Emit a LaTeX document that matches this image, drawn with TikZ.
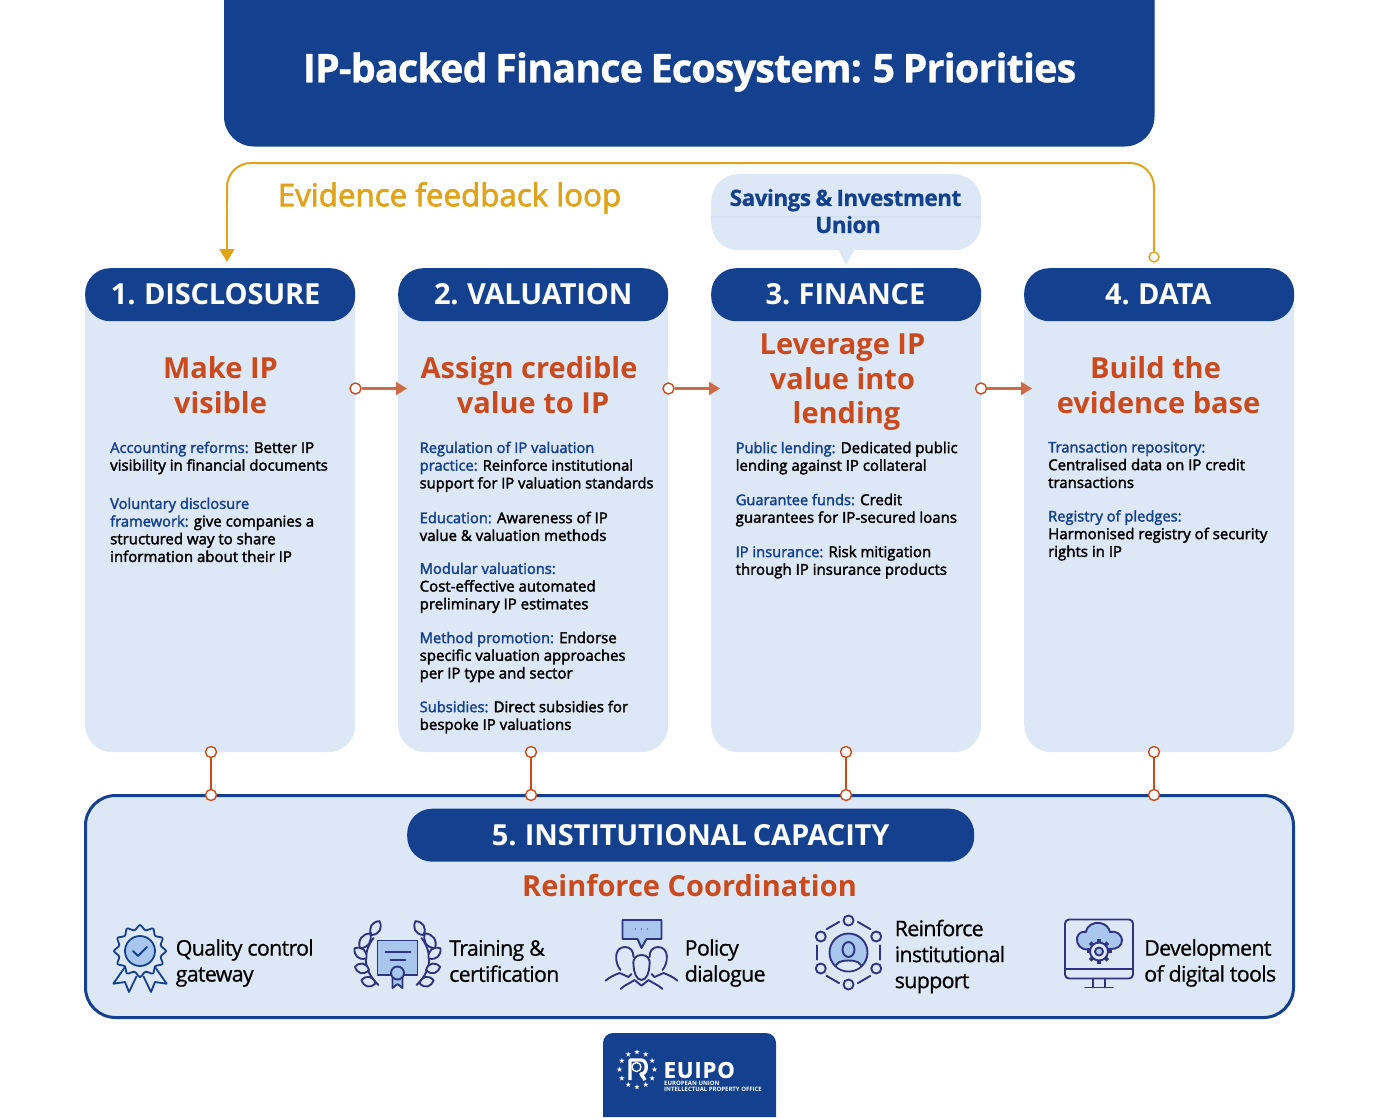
\documentclass[tikz,border=0pt]{standalone}
\usepackage{fontspec}
\setmainfont{Open Sans}
\newfontfamily\osb{Open Sans}[FakeBold=2.2]
\newfontfamily\osbw{Open Sans}[LetterSpace=-0.5,WordSpace=0.8]
\newfontfamily\ostight{Open Sans}[LetterSpace=-3.4,FakeBold=0.6]
\newfontfamily\osbt{Open Sans}[LetterSpace=-2.2,WordSpace=0.8,FakeBold=0.8]
\newfontfamily\osbwide{Open Sans}[LetterSpace=4,FakeBold=1]
\usetikzlibrary{arrows.meta,shapes.geometric,calc}
\definecolor{navy}{HTML}{14418F}
\definecolor{pale}{HTML}{DDE8F7}
\definecolor{rust}{HTML}{CA4A1E}
\definecolor{rustl}{HTML}{CE6A45}
\definecolor{gold}{HTML}{E0A31A}
\definecolor{ink}{HTML}{2E3480}
\definecolor{iconfill}{HTML}{A9C6EF}
\definecolor{seam}{HTML}{D3E0F1}
\newcommand{\fs}[2]{\fontsize{#1}{#2}\selectfont}
\newcommand{\lab}[1]{{\fs{14.7}{17.7}\textcolor{navy}{#1}}}
\newcommand{\hd}[2]{\raisebox{1.5pt}{#2}\hspace*{#1pt}}
\tikzset{
  x=1pt,y=-1pt,
  card/.style={fill=pale,rounded corners=27pt,minimum width=270pt,minimum height=484pt,inner sep=0,anchor=north west},
  headbox/.style={fill=navy,text=white,rounded corners=25pt,minimum width=270pt,minimum height=53pt,inner sep=0,anchor=north west,font=\bfseries\osbw\fs{29}{30}},
  goal/.style={text=rust,font=\bfseries\fs{29}{34.6},align=center,inner sep=0},
  body/.style={font=\osb\fs{15}{17.7},align=left,inner sep=0,anchor=north west,text=black},
  caplab/.style={font=\ostight\fs{21.5}{26},align=left,inner sep=0,anchor=west,text=black},
  dotr/.style={circle,draw=rust,fill=white,line width=1.4pt,minimum size=11pt,inner sep=0},
  dotg/.style={circle,draw=gold,fill=white,line width=1.4pt,minimum size=10pt,inner sep=0},
  linkv/.style={draw=rust,line width=2pt},
  linkh/.style={draw=rustl,line width=2.2pt,-{Triangle[length=11pt,width=13pt]}},
  ico/.style={draw=ink,line width=1.9pt,line join=round,line cap=round},
  leaf/.style={ico,fill=pale},
}
\newcommand{\leafat}[4]{\draw[leaf,shift={(#1,#2)},rotate=#3] (0,0) .. controls (#4*0.3,7) and (#4*0.75,6) .. (#4,0) .. controls (#4*0.75,-6) and (#4*0.3,-7) .. (0,0) -- cycle;}
\begin{document}
\begin{tikzpicture}
\useasboundingbox (0,0) rectangle (1379,1117);
% title
\fill[navy] (224,0) [rounded corners=30pt] -- (224,146.5) -- (1154.5,146.5) [sharp corners] -- (1154.5,0) -- cycle;
\node[text=white,font=\bfseries\osbt\fs{39.5}{40},inner sep=0] (title) at (689.5,72) {IP-backed Finance Ecosystem: 5 Priorities};
% feedback
\node[text=gold,font=\osb\fs{31.3}{32},inner sep=0] (fbl) at (449.5,198) {Evidence feedback loop};
\node[dotg] (fbs) at (1154,257) {};
\coordinate (fbtop) at (227,163);
\coordinate (fbe) at (227,262);
\draw[gold,line width=2pt,rounded corners=24pt] (fbs.north) |- (fbtop) -- ($(fbtop)+(0,40)$);
\draw[gold,line width=2pt,-{Triangle[length=13pt,width=15pt]}] ($(fbtop)+(0,39)$) -- (fbe);
% bubble
\fill[pale] (838,249) -- (846,265) -- (855,249) -- cycle;
\node[fill=pale,rounded corners=27pt,minimum width=270pt,minimum height=76pt,inner sep=0,anchor=north west] (sib) at (711,174) {};
\draw[seam,line width=1.2pt] (sib.west |- 0,217) -- (sib.east |- 0,217);
\node[text=navy,font=\bfseries\osbt\fs{22.5}{27},align=center,inner sep=0] (sibt) at (845.5,211) {Savings \& Investment\\\hspace*{5pt}Union};
% cards
\node[card] (card1) at (85,268) {};
\node[card] (card2) at (398,268) {};
\node[card] (card3) at (711,268) {};
\node[card] (card4) at (1024,268) {};
\node[headbox] (head1) at (85,268) {\hd{9}{1. DISCLOSURE}};
\node[headbox] (head2) at (398,268) {\hd{0}{2. VALUATION}};
\node[headbox] (head3) at (711,268) {\hd{1.5}{3. FINANCE}};
\node[headbox] (head4) at (1024,268) {\hd{2}{4. DATA}};
% goals
\node[goal] (goal1) at (220.5,385) {Make IP\\visible};
\node[goal] (goal2) at (529,385) {Assign credible\\\hspace*{8pt}value to IP};
\node[goal] (goal3) at (842.5,382.5) {Leverage IP\\value into\\\hspace*{8pt}lending};
\node[goal] (goal4) at (1158.5,385) {Build the\hspace*{6pt}\\evidence base};
% bodies
\node[body] (b1a) at (110,441.5) {\lab{Accounting reforms:} Better IP\\visibility in financial documents};
\node[body] (b1b) at (110,497.5) {\lab{Voluntary disclosure}\\\lab{framework:} give companies a\\structured way to share\\information about their IP};
\node[body,font=\osb\fs{14.7}{17.7}] (b2a) at (419.5,441.5) {\lab{Regulation of IP valuation}\\\lab{practice:} Reinforce institutional\\support for IP valuation standards};
\node[body] (b2b) at (419.5,511.5) {\lab{Education:} Awareness of IP\\value \& valuation methods};
\node[body] (b2c) at (419.5,562.5) {\lab{Modular valuations:}\\Cost-effective automated\\preliminary IP estimates};
\node[body] (b2d) at (419.5,631.5) {\lab{Method promotion:} Endorse\\specific valuation approaches\\per IP type and sector};
\node[body] (b2e) at (419.5,700.5) {\lab{Subsidies:} Direct subsidies for\\bespoke IP valuations};
\node[body] (b3a) at (735.5,441.5) {\lab{Public lending:} Dedicated public\\lending against IP collateral};
\node[body] (b3b) at (735.5,493.5) {\lab{Guarantee funds:} Credit\\guarantees for IP-secured loans};
\node[body] (b3c) at (735.5,545.5) {\lab{IP insurance:} Risk mitigation\\through IP insurance products};
\node[body] (b4a) at (1048,441.5) {\lab{Transaction repository:}\\Centralised data on IP credit\\transactions};
\node[body] (b4b) at (1048,510) {\lab{Registry of pledges:}\\Harmonised registry of security\\rights in IP};
% horizontal arrows
\node[dotr] (ha1) at (355.5,388.5) {};
\node[dotr] (ha2) at (668.5,388.5) {};
\node[dotr] (ha3) at (981,388.5) {};
\coordinate (hb1) at (407,388.5);
\coordinate (hb2) at (720,388.5);
\coordinate (hb3) at (1032,388.5);
\draw[linkh] (ha1) -- (hb1);
\draw[linkh] (ha2) -- (hb2);
\draw[linkh] (ha3) -- (hb3);
% institutional box
\node[fill=pale,draw=navy,line width=3pt,rounded corners=30pt,minimum width=1208pt,minimum height=222pt,inner sep=0] (inst) at (689.5,906.5) {};
\node[headbox,minimum width=567pt,minimum height=53pt] (head5) at (407,808.5) {5. INSTITUTIONAL CAPACITY};
\node[goal] (goal5) at (689.5,886) {Reinforce Coordination};
% vertical links
\foreach \i/\xx in {1/211,2/531,3/846,4/1154}{
  \node[dotr] (va\i) at (\xx,752) {};
  \node[dotr] (vb\i) at (\xx,795) {};
  \draw[linkv] (va\i) -- (vb\i);
}
% captions
\node[caplab] (c1) at (175.5,963) {Quality control\\gateway};
\node[caplab] (c2) at (449,961) {Training \&\\certification};
\node[caplab] (c3) at (684.5,963) {Policy\\dialogue};
\node[caplab] (c4) at (894.5,956.5) {Reinforce\\institutional\\support};
\node[caplab] (c5) at (1144,963) {Development\\of digital tools};
% icon 1: rosette
\begin{scope}[shift={(140,951)}]
  \draw[navy,line width=1.8pt,line join=round,fill=pale] (-15,16) -- (-26.7,32.7) -- (-15,31) -- (-11,41) -- (-3.3,25);
  \draw[navy,line width=1.8pt,line join=round,fill=pale] (15,16) -- (26.7,32.7) -- (15,31) -- (11,41) -- (3.3,25);
  \draw[navy,line width=1.8pt,line join=round,fill=pale] plot[smooth cycle,domain=0:345,samples=24] (\x:{mod(round(\x/15),2)==0 ? 26 : 21.5});
  \draw[navy,line width=1.8pt,fill=iconfill] (0,0) circle (15);
  \draw[navy,line width=1.8pt,line cap=round,line join=round] (-7,0) -- (-2,5) -- (7,-4);
\end{scope}
% icon 2: certificate with wreath
\begin{scope}[shift={(397.5,955)}]
  \draw[ico,fill=iconfill] (-20,-14.5) rectangle (20,20);
  \draw[ico] (-12,-3) -- (13,-3); \draw[ico] (-7,5) -- (8,5);
  \draw[ico,fill=iconfill] (-5,22) -- (-5,33) -- (0,29) -- (5,33) -- (5,22);
  \draw[ico,fill=iconfill] (0,18) circle (6.5);
  \foreach \s in {-1,1}{
    \begin{scope}[xscale=\s]
      \draw[ico] (-24,-17) .. controls (-34,-4) and (-36,14) .. (-19,30);
      \leafat{-26}{-20}{60}{16}
      \leafat{-37.5}{-6.7}{56}{18}
      \leafat{-31}{3.3}{140}{15.6}
      \leafat{-28.5}{15}{167}{14.4}
      \leafat{-22}{28.3}{167}{14.4}
    \end{scope}
  }
\end{scope}
% icon 3: people and speech
\begin{scope}[shift={(641.5,955)}]
  \draw[ico,fill=iconfill] (-19,-35) -- (20,-35) -- (20,-16) -- (5,-16) -- (0,-7) -- (-4,-16) -- (-19,-16) -- cycle;
  \foreach \dx in {-6,0,6}{\fill[ink!70] (\dx,-26) circle (0.9);}
  \foreach \s in {-1,1}{
    \begin{scope}[xscale=\s]
      \draw[ico] (-21,15) .. controls (-27,8) and (-28,-8) .. (-16.5,-8) .. controls (-11,-8) and (-8,-4) .. (-8,2);
      \draw[ico] (-36,25.7) .. controls (-32,22) and (-27,20) .. (-22,18) -- (-13,22) -- (-10,19);
    \end{scope}
  }
  \draw[ico,fill=pale] (-8,10) .. controls (-9,3) and (-5,0) .. (0,0) .. controls (5,0) and (9,3) .. (8,10) .. controls (8,17) and (5,25) .. (0,25) .. controls (-5,25) and (-8,17) .. (-8,10) -- cycle;
  \draw[ico] (-21,34) .. controls (-17,30) and (-11,28) .. (-7,25) -- (0,30.7) -- (7,25) .. controls (11,28) and (17,30) .. (21,34);
\end{scope}
% icon 4: hub
\begin{scope}[shift={(848.5,952.5)}]
  \draw[ico,fill=iconfill] (0,0) circle (19);
  \begin{scope}
    \clip (0,0) circle (18);
    \draw[ico,fill=pale] (-14,19) .. controls (-14,9) and (-7,8) .. (0,8) .. controls (7,8) and (14,9) .. (14,19) -- cycle;
  \end{scope}
  \draw[ico] (0,-3) ellipse (6 and 7.5);
  \foreach \a in {30,90,150,210,270,330}{
    \draw[ico] (\a:32) circle (5);
    \draw[ico] (\a+17:32) -- (\a+43:32);
  }
\end{scope}
% icon 5: monitor
\begin{scope}[shift={(1099,940)}]
  \draw[ico,rounded corners=4pt] (-34,-20.5) rectangle (34,38.5);
  \draw[ico] (-34,29) -- (34,29);
  \draw[ico] (-6,38.5) -- (-6,47.5); \draw[ico] (6,38.5) -- (6,47.5);
  \draw[ico] (-14,47.5) -- (14,47.5);
  \draw[ico,fill=iconfill] (-10,9) .. controls (-18,11) and (-23,4) .. (-22,-2) .. controls (-21,-7) and (-17,-9) .. (-13,-8) .. controls (-12,-15) and (-5,-18) .. (1,-17) .. controls (7,-16) and (10,-12) .. (11,-8) .. controls (17,-10) and (23,-5) .. (23,0) .. controls (23,6) and (18,9) .. (12,9) -- cycle;
  \foreach \a in {0,45,...,315}{
    \draw[ink,line width=3.6pt] ($(0,11.5)+(\a:8)$) -- ($(0,11.5)+(\a:12.5)$);
  }
  \draw[ico,fill=pale] (0,11.5) circle (9);
  \draw[ico,fill=iconfill] (0,11.5) circle (4);
\end{scope}
% logo
\fill[navy] (603,1117) [rounded corners=10pt] -- (603,1033) -- (776,1033) [sharp corners] -- (776,1117) -- cycle;
\foreach \a in {0,30,...,330}{
  \node[star,star points=5,star point ratio=2.4,fill=white,inner sep=0,minimum size=5.5pt] at ($(637,1069.5)+(\a:17.5)$) {};
}
\draw[white,line width=3.4pt,line join=round] (630,1080) -- (630,1060) -- (641,1060) .. controls (648,1060) and (648,1074) .. (641,1074) -- (645,1080);
\draw[white,fill=navy,line width=1.3pt] (636.5,1067) circle (4.5);
\node[text=white,font=\bfseries\osbwide\fs{22}{22},inner sep=0,anchor=west] (logo) at (663.5,1070) {EUIPO};
\node[text=white,font=\bfseries\fs{6}{6},inner sep=0,anchor=north west,align=left] (logos) at (664,1080.5) {EUROPEAN UNION\\INTELLECTUAL PROPERTY OFFICE};
\end{tikzpicture}
\end{document}
